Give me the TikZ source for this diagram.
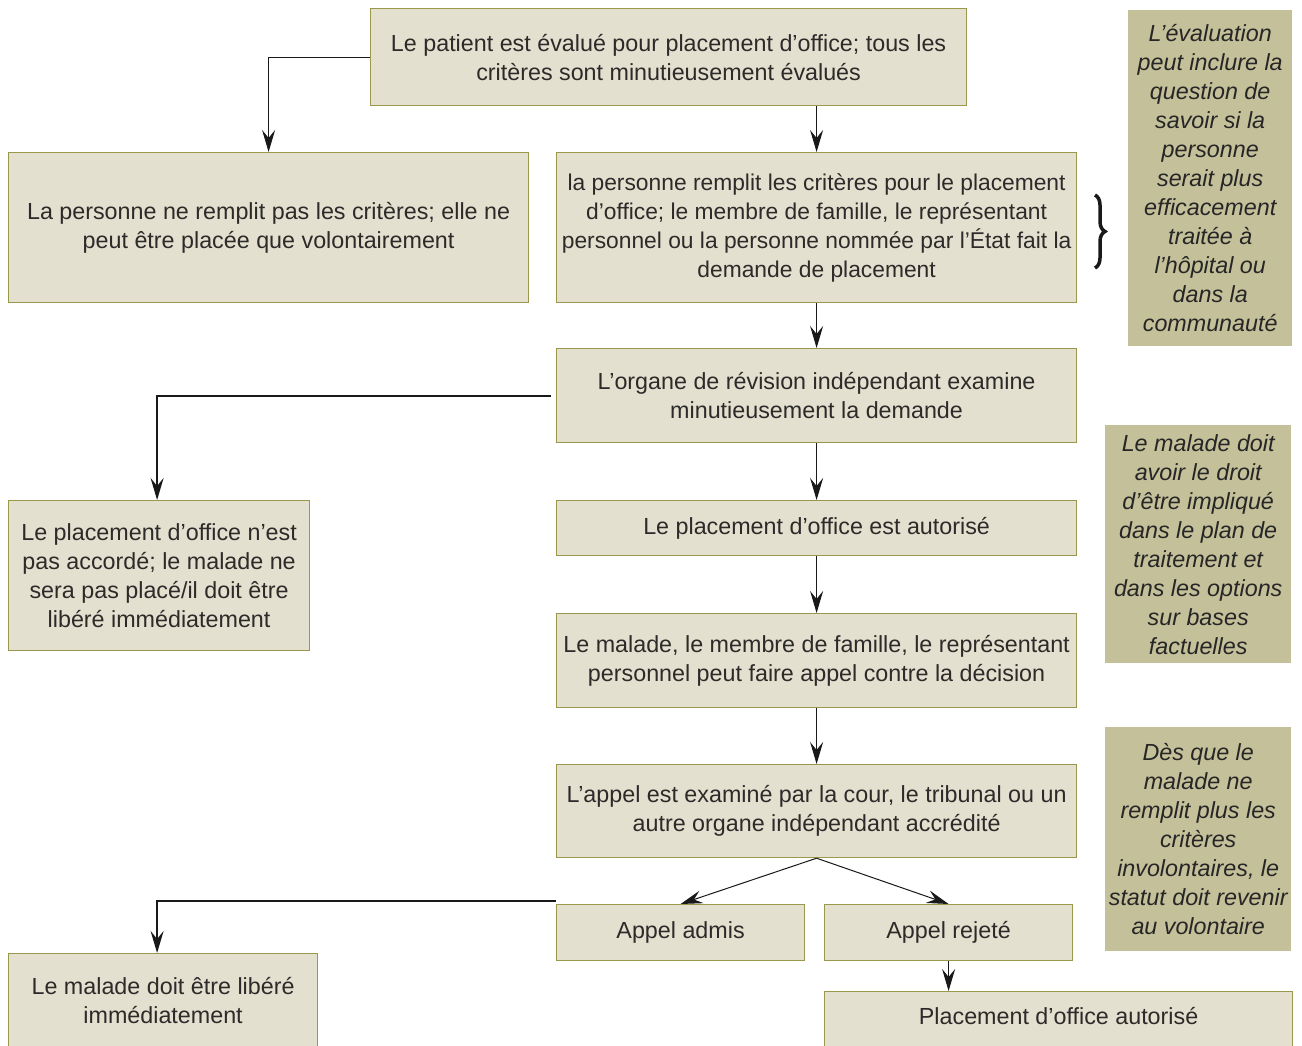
\documentclass[tikz,border=0pt]{standalone}
\usepackage{fontspec}
\setmainfont{Liberation Sans}
\usetikzlibrary{arrows.meta,decorations.pathreplacing,calc}
\definecolor{boxfill}{RGB}{227,224,207}
\definecolor{boxline}{RGB}{154,152,74}
\definecolor{notefill}{RGB}{196,192,154}
\definecolor{txt}{RGB}{45,42,42}
\begin{document}
\begin{tikzpicture}[x=1pt,y=-1pt,
  flowbox/.style={draw=boxline,fill=boxfill,line width=1.2pt,anchor=north west,align=center,
    text=txt,font=\fontsize{23.3}{29}\selectfont,inner sep=0pt},
  notebox/.style={fill=notefill,anchor=north west,align=center,text=black!85,
    font=\fontsize{23.3}{29}\selectfont\itshape,inner sep=0pt},
  thin/.style={draw=black!90,line width=1pt,-{Stealth[length=22pt,width=13pt,inset=8pt]}},
  thick/.style={draw=black!90,line width=2pt,-{Stealth[length=22pt,width=13pt,inset=8pt]}}]
\clip (0,0) rectangle (1302,1046);
\fill[white] (0,0) rectangle (1302,1046);

\node[flowbox,minimum width=596,minimum height=97] (b1) at (370,8)
  {Le patient est évalué pour placement d’office; tous les\\critères sont minutieusement évalués};
\node[flowbox,minimum width=520,minimum height=150] (b2) at (8,152)
  {La personne ne remplit pas les critères; elle ne\\peut être placée que volontairement};
\node[flowbox,minimum width=520,minimum height=150,font=\fontsize{22.8}{29}\selectfont] (b3) at (556,152)
  {la personne remplit les critères pour le placement\\d’office; le membre de famille, le représentant\\personnel ou la personne nommée par l’État fait la\\demande de placement};
\node[flowbox,minimum width=520,minimum height=94] (b4) at (556,348)
  {L’organe de révision indépendant examine\\minutieusement la demande};
\node[flowbox,minimum width=301,minimum height=150] (b5) at (8,500)
  {Le placement d’office n’est\\pas accordé; le malade ne\\sera pas placé/il doit être\\libéré immédiatement};
\node[flowbox,minimum width=520,minimum height=55] (b6) at (556,500)
  {Le placement d’office est autorisé};
\node[flowbox,minimum width=520,minimum height=94] (b7) at (556,613)
  {Le malade, le membre de famille, le représentant\\personnel peut faire appel contre la décision};
\node[flowbox,minimum width=520,minimum height=93] (b8) at (556,764)
  {L’appel est examiné par la cour, le tribunal ou un\\autre organe indépendant accrédité};
\node[flowbox,minimum width=248,minimum height=56] (b9) at (556,904) {Appel admis};
\node[flowbox,minimum width=248,minimum height=56] (b10) at (824,904) {Appel rejeté};
\node[flowbox,minimum width=468,text height=20pt,text depth=30pt,inner ysep=13pt] (b11) at (824,991)
  {Placement d’office autorisé};
\node[flowbox,minimum width=309,minimum height=94] (b12) at (8,953)
  {Le malade doit être libéré\\immédiatement};

\node[notebox,minimum width=164,minimum height=336] (n1) at (1128,10)
  {L’évaluation\\peut inclure la\\question de\\savoir si la\\personne\\serait plus\\efficacement\\traitée à\\l’hôpital ou\\dans la\\communauté};
\node[notebox,minimum width=186,minimum height=238] (n2) at (1105,425)
  {Le malade doit\\avoir le droit\\d’être impliqué\\dans le plan de\\traitement et\\dans les options\\sur bases\\factuelles};
\node[notebox,minimum width=186,minimum height=224] (n3) at (1105,727)
  {Dès que le\\malade ne\\remplit plus les\\critères\\involontaires, le\\statut doit revenir\\au volontaire};

\coordinate (bt) at (1095,195);
\coordinate (bb) at (1095,268);
\draw[decorate,decoration={brace,amplitude=10pt},line width=3.5pt,black!90] (bt) -- (bb);

\draw[thin] (b1.west) -| (b2.north);
\draw[thin] (b1.south -| b3.north) -- (b3.north);
\draw[thin] (b3.south) -- (b4.north);
\draw[thick] ([xshift=-5pt]b4.west) -| ([xshift=-2pt]b5.north);
\draw[thin] (b4.south) -- (b6.north);
\draw[thin] (b6.south) -- (b7.north);
\draw[thin] (b7.south) -- (b8.north);
\draw[thin] (b8.south) -- (b9.north);
\draw[thin] (b8.south) -- (b10.north);
\draw[thick] ([yshift=3pt]b9.north west) -| ([xshift=-6pt]b12.north);
\draw[thin] (b10.south) -- (b10.south |- b11.north);
\end{tikzpicture}
\end{document}
